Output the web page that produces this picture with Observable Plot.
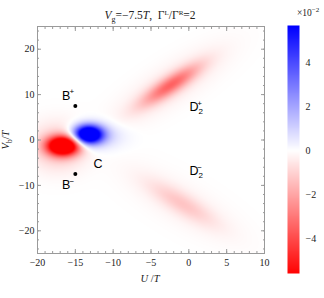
<!DOCTYPE html>
<html><head><meta charset="utf-8">
<script src="https://cdn.jsdelivr.net/npm/d3@7"></script>
<script src="https://cdn.jsdelivr.net/npm/@observablehq/plot@0.6"></script>
<style>
body{margin:0;background:#fff}
#wrap{position:relative;width:324px;height:298px}
#wrap svg{position:absolute;top:0}
</style>
</head><body><div id="wrap"></div>
<script>
// axis ticks
const xMajor = [-20, -15, -10, -5, 0, 5, 10];
const xMinor = d3.range(-20, 11, 1);
const yMajor = [-20, -10, 0, 10, 20];
const yMinor = d3.range(-24, 25, 2);
const cbTicks = [-4, -2, 0, 2, 4];
const cbDomain = [-5.6, 5.7];
const colorMax = 5.65;

// field features (units of U/T, Vb/T, amplitude x10^-2)
const blobU = [-16.6, -17.3, -13.3, -12.0, -2.4, -2.4, -0.9, -0.9];
const blobV = [-1.3, -1.5, 1.2, 0.9, 12.1, 12.1, -14.0, -14.0];
const blobAngle = [0, 0, 0, 0, 50, 50, -48, -48];
const blobSigmaAlong = [1.45, 2.4, 1.3, 2.2, 3.8, 7.0, 4.2, 7.5];
const blobSigmaAcross = [1.45, 3.4, 1.4, 2.0, 1.05, 2.2, 1.3, 2.6];
const blobAmp = [-9, -1.4, 9, 1.2, -2.9, -0.6, -1.0, -0.3];

// points and labels
const pointU = [-15, -15];
const pointV = [7.5, -7.5];
const labelText = ["B", "B", "C", "D", "D"];
const labelSup = ["+", "−", "", "+", "−"];
const labelSub = ["", "", "", "2", "2"];
const labelU = [-16.2, -16.2, -12.0, 0.7, 0.7];
const labelV = [9.8, -10.0, -5.2, 7.2, -6.9];

const blobs = blobU.map((u, i) => ({u, v: blobV[i], th: blobAngle[i] * Math.PI / 180,
  sa: blobSigmaAlong[i], sc: blobSigmaAcross[i], a: blobAmp[i]}));
function field(U, V) {
  let s = 0;
  for (const b of blobs) {
    const dU = U - b.u, dV = V - b.v;
    const al = dU * Math.cos(b.th) + dV * Math.sin(b.th);
    const ac = -dU * Math.sin(b.th) + dV * Math.cos(b.th);
    s += b.a * Math.exp(-(al * al) / (2 * b.sa * b.sa) - (ac * ac) / (2 * b.sc * b.sc));
  }
  return s;
}
const points = pointU.map((u, i) => ({u, v: pointV[i]}));
const labels = labelText.map((t, i) => ({t, sup: labelSup[i], sub: labelSub[i], u: labelU[i], v: labelV[i]}));
const fmt = d => d < 0 ? "−" + (-d) : String(d);

const color = {type: "linear", domain: [-colorMax, 0, colorMax], range: ["#ff0000", "#ffffff", "#0000ff"], interpolate: "rgb", clamp: true};
const tickStroke = "#9a9a9a";
const sans = "Liberation Sans, Arial, sans-serif";

const main = Plot.plot({
  width: 324, height: 298,
  marginLeft: 37, marginRight: 60, marginTop: 26, marginBottom: 45,
  style: {fontFamily: "Liberation Serif, serif", fontSize: "10px", color: "#222", background: "white"},
  x: {domain: [-20, 10]},
  y: {domain: [-25, 25]},
  color,
  marks: [
    Plot.raster({fill: field, x1: -20, x2: 10, y1: -25, y2: 25, pixelSize: 1}),
    Plot.frame({stroke: tickStroke}),
    Plot.axisX({anchor: "bottom", ticks: xMinor, tickSize: -2, fill: "none", stroke: tickStroke, label: null}),
    Plot.axisX({anchor: "bottom", ticks: xMajor, tickSize: -4, fill: "none", stroke: tickStroke, label: null}),
    Plot.axisX({anchor: "top", ticks: xMinor, tickSize: -2, fill: "none", stroke: tickStroke, label: null}),
    Plot.axisX({anchor: "top", ticks: xMajor, tickSize: -4, fill: "none", stroke: tickStroke, label: null}),
    Plot.axisY({anchor: "left", ticks: yMinor, tickSize: -2, fill: "none", stroke: tickStroke, label: null}),
    Plot.axisY({anchor: "left", ticks: yMajor, tickSize: -4, fill: "none", stroke: tickStroke, label: null}),
    Plot.axisY({anchor: "right", ticks: yMinor, tickSize: -2, fill: "none", stroke: tickStroke, label: null}),
    Plot.axisY({anchor: "right", ticks: yMajor, tickSize: -4, fill: "none", stroke: tickStroke, label: null}),
    Plot.axisX({anchor: "bottom", ticks: xMajor, tickSize: 0, tickPadding: 5, tickFormat: fmt, label: null}),
    Plot.axisY({anchor: "left", ticks: yMajor, tickSize: 0, tickPadding: 3, tickFormat: fmt, label: null}),
    Plot.dot(points, {x: "u", y: "v", r: 2, fill: "black"}),
    Plot.text(labels, {x: "u", y: "v", text: "t", fontFamily: sans, fontSize: 12.5, fill: "black"}),
    Plot.text(labels.filter(d => d.sup), {x: "u", y: "v", text: "sup", dx: 5.5, dy: -4, fontFamily: sans, fontSize: 8, fill: "black"}),
    Plot.text(labels.filter(d => d.sub), {x: "u", y: "v", text: "sub", dx: 6.5, dy: 4.5, fontFamily: sans, fontSize: 8, fill: "black"})
  ]
});

// title and axis labels
const ms = d3.select(main);
const t = ms.append("text").attr("x", 150).attr("y", 19).attr("text-anchor", "middle")
  .style("font-family", "Liberation Serif, serif").style("font-size", "11.5px").attr("fill", "#222");
t.append("tspan").style("font-style", "italic").text("V");
t.append("tspan").attr("dy", 2.5).style("font-size", "8px").text("g");
t.append("tspan").attr("dy", -2.5).text("=−7.5");
t.append("tspan").style("font-style", "italic").text("T");
t.append("tspan").text(",  Γ");
t.append("tspan").attr("dy", -4).style("font-size", "7px").text("L");
t.append("tspan").attr("dy", 4).text("/Γ");
t.append("tspan").attr("dy", -4).style("font-size", "7px").text("R");
t.append("tspan").attr("dy", 4).text("=2");

const xl = ms.append("text").attr("x", 150).attr("y", 282).attr("text-anchor", "middle")
  .style("font-family", "Liberation Serif, serif").style("font-size", "10.5px").attr("fill", "#222");
xl.append("tspan").style("font-style", "italic").text("U");
xl.append("tspan").text(" /");
xl.append("tspan").style("font-style", "italic").text("T");

const yl = ms.append("text").attr("transform", "translate(9,140) rotate(-90)").attr("text-anchor", "middle")
  .style("font-family", "Liberation Serif, serif").style("font-size", "10.5px").attr("fill", "#222");
yl.append("tspan").style("font-style", "italic").text("V");
yl.append("tspan").attr("dy", 2.5).style("font-size", "7.5px").text("b");
yl.append("tspan").attr("dy", -2.5).text("/");
yl.append("tspan").style("font-style", "italic").text("T");

// colorbar
const cb = Plot.plot({
  width: 37, height: 298,
  marginLeft: 0, marginRight: 25, marginTop: 25, marginBottom: 25,
  style: {fontFamily: "Liberation Serif, serif", fontSize: "10px", color: "#222", background: "none"},
  x: {domain: [0, 1], axis: null},
  y: {domain: cbDomain},
  color,
  marks: [
    Plot.raster({fill: (x, y) => y, x1: 0, x2: 1, y1: cbDomain[0], y2: cbDomain[1], pixelSize: 1}),
    Plot.axisY({anchor: "right", ticks: cbTicks, tickSize: 0, tickPadding: 6, tickFormat: fmt, label: null})
  ]
});
cb.style.left = "287px";
const cs = d3.select(cb);
const ct = cs.append("text").attr("x", 10).attr("y", 16).attr("text-anchor", "start")
  .style("font-family", "Liberation Serif, serif").style("font-size", "9.5px").attr("fill", "#222");
ct.append("tspan").text("×10");
ct.append("tspan").attr("dy", -4).style("font-size", "7px").text("−2");

main.style.left = "0px";
document.getElementById("wrap").append(main, cb);
</script>
</body></html>
